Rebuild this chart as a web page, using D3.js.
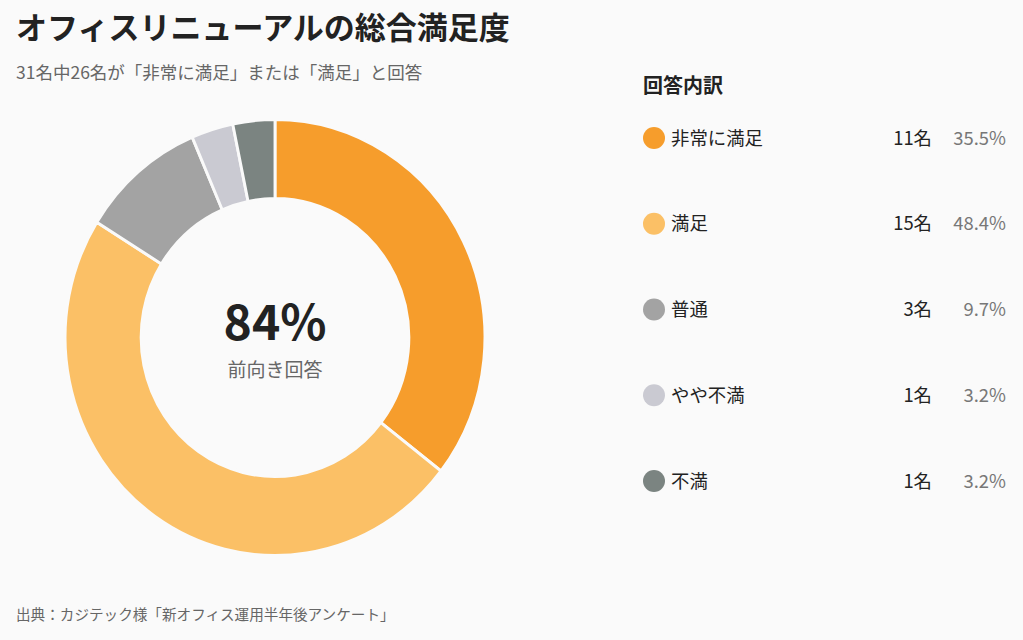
<!DOCTYPE html>
<html>
<head>
    <meta charset="UTF-8">
    <title>オフィスリニューアルの総合満足度</title>
    <style>
        body {
            margin: 0;
            background: #fafafa;
        }

        svg {
            font-family: "Noto Sans CJK JP", "Noto Sans", sans-serif;
        }
    </style>
</head>
<body>
    <svg id="chart" width="1023" height="640"></svg>

    <script src="https://d3js.org/d3.v7.min.js"></script>
    <script>
        // data
        const categories = ["非常に満足", "満足", "普通", "やや不満", "不満"];
        const counts = [11, 15, 3, 1, 1];
        const colors = ["#f69d2c", "#fbc066", "#a3a3a3", "#cacad2", "#7b8481"];

        const total = d3.sum(counts);
        const positive = counts[0] + counts[1];

        const svg = d3.select("#chart"),
            width = +svg.attr("width"),
            height = +svg.attr("height");

        svg.append("rect").attr("width", width).attr("height", height).attr("fill", "#fafafa");

        // titles
        svg.append("text")
            .attr("x", 16).attr("y", 39)
            .attr("font-size", 31).attr("font-weight", 700).attr("fill", "#222")
            .text("オフィスリニューアルの総合満足度");

        svg.append("text")
            .attr("x", 16).attr("y", 79)
            .attr("font-size", 17.5).attr("fill", "#666")
            .text(`${total}名中${positive}名が「非常に満足」または「満足」と回答`);

        // donut
        const cx = 275, cy = 337.5;
        const outerR = 218, innerR = 139;

        const pie = d3.pie().sort(null).value(d => d.count);
        const arc = d3.arc().innerRadius(innerR).outerRadius(outerR);

        const slices = categories.map((c, i) => ({ name: c, count: counts[i], color: colors[i] }));

        const donut = svg.append("g")
            .attr("transform", `translate(${cx},${cy}) scale(0.963,1)`);

        donut.selectAll("path")
            .data(pie(slices))
            .join("path")
            .attr("d", arc)
            .attr("fill", d => d.data.color)
            .attr("stroke", "#fafafa")
            .attr("stroke-width", 3);

        const center = svg.append("g").attr("transform", `translate(${cx},${cy})`);
        center.append("text")
            .attr("text-anchor", "middle").attr("y", 2)
            .attr("font-size", 48).attr("font-weight", 700).attr("fill", "#222")
            .text(d3.format(".0%")(positive / total));
        center.append("text")
            .attr("text-anchor", "middle").attr("y", 39)
            .attr("font-size", 19).attr("fill", "#666")
            .text("前向き回答");

        // legend
        const legend = svg.append("g");
        legend.append("text")
            .attr("x", 643).attr("y", 93)
            .attr("font-size", 20).attr("font-weight", 700).attr("fill", "#222")
            .text("回答内訳");

        const rowY = d3.scalePoint()
            .domain(categories)
            .range([138, 481]);

        const rows = legend.selectAll("g.row")
            .data(slices)
            .join("g")
            .attr("class", "row")
            .attr("transform", d => `translate(0,${rowY(d.name)})`);

        rows.append("circle")
            .attr("cx", 654).attr("cy", 0).attr("r", 11)
            .attr("fill", d => d.color);

        rows.append("text")
            .attr("x", 671).attr("y", 6.5)
            .attr("font-size", 18.4).attr("fill", "#222")
            .text(d => d.name);

        rows.append("text")
            .attr("x", 932).attr("y", 6.5)
            .attr("text-anchor", "end")
            .attr("font-size", 18.4).attr("fill", "#222")
            .text(d => d.count + "名");

        rows.append("text")
            .attr("x", 1006).attr("y", 6.5)
            .attr("text-anchor", "end")
            .attr("font-size", 18.4).attr("fill", "#777")
            .text(d => d3.format(".1f")(d.count / total * 100) + "%");

        // footer
        svg.append("text")
            .attr("x", 16).attr("y", 620)
            .attr("font-size", 14.6).attr("fill", "#666")
            .text("出典：カジテック様「新オフィス運用半年後アンケート」");
    </script>
</body>
</html>
